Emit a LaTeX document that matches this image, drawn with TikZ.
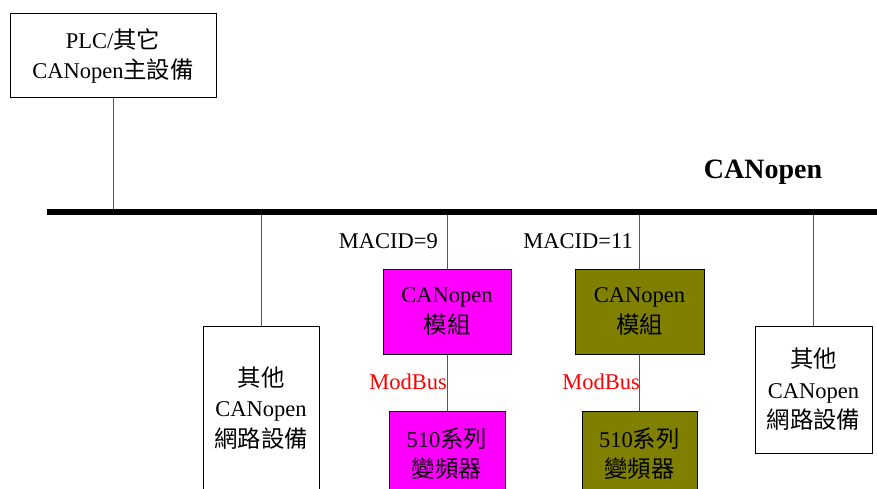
\documentclass[tikz,border=0pt]{standalone}
\usepackage{fontspec}
\setmainfont{Liberation Serif}
\newfontfamily\cjk[Scale=1.04]{Noto Sans CJK TC}
\usetikzlibrary{positioning}
\definecolor{modmagenta}{HTML}{FF00FF}
\definecolor{modolive}{HTML}{808000}
\definecolor{wiregray}{HTML}{555555}
\begin{document}
\begin{tikzpicture}[x=1pt, y=-1pt,
    devbox/.style={draw, line width=1pt, align=center, inner sep=0pt,
                   font=\fontsize{22.5}{30.5}\selectfont},
    wire/.style={wiregray, line width=1pt},
    tag/.style={inner sep=0pt, font=\fontsize{22.5}{27}\selectfont}]
      \useasboundingbox (0,0) rectangle (877,489);
      \clip (0,0) rectangle (877,489);
      \coordinate (busL) at (47,212);
      \coordinate (busR) at (877,212);
      \node[devbox, minimum width=206, minimum height=84] (plc) at (113,56)
        {PLC/{\cjk 其它}\\CANopen{\cjk 主設備}};
      \node[devbox, minimum width=116, minimum height=164] (otherL) at (261,408)
        {{\cjk 其他}\\CANopen\\{\cjk 網路設備}};
      \node[devbox, minimum width=117, minimum height=127] (otherR) at (813.5,389.5)
        {{\cjk 其他}\\CANopen\\{\cjk 網路設備}};
      \node[devbox, fill=modmagenta, minimum width=128, minimum height=85] (modA) at (447,311.5)
        {CANopen\\{\cjk 模組}};
      \node[devbox, fill=modmagenta, minimum width=116, minimum height=85] (drvA) at (447,453.5)
        {510{\cjk 系列}\\{\cjk 變頻器}};
      \node[devbox, fill=modolive, minimum width=129, minimum height=85] (modB) at (639.5,311.5)
        {CANopen\\{\cjk 模組}};
      \node[devbox, fill=modolive, minimum width=115, minimum height=85] (drvB) at (639.5,453.5)
        {510{\cjk 系列}\\{\cjk 變頻器}};
      \node[tag, font=\fontsize{28}{32}\selectfont\bfseries] (busname) at (763,172) {CANopen};
      \node[tag, anchor=east] (idA) at (438,241) {MACID=9};
      \node[tag, anchor=east] (idB) at (633,241) {MACID=11};
      \node[tag, anchor=east, red] (mbA) at (447,382) {ModBus};
      \node[tag, anchor=east, red] (mbB) at (640,382) {ModBus};
      \draw[wire] (plc.south) -- (plc.south |- busL);
      \draw[wire] (otherL.north) -- (otherL.north |- busL);
      \draw[wire] (otherR.north) -- (otherR.north |- busL);
      \draw[wire] (modA.north) -- (modA.north |- busL);
      \draw[wire] (modB.north) -- (modB.north |- busL);
      \draw[wire] (modA.south) -- (drvA.north);
      \draw[wire] (modB.south) -- (drvB.north);
      \draw[line width=5.5pt] (busL) -- (busR);
    \end{tikzpicture}
\end{document}
